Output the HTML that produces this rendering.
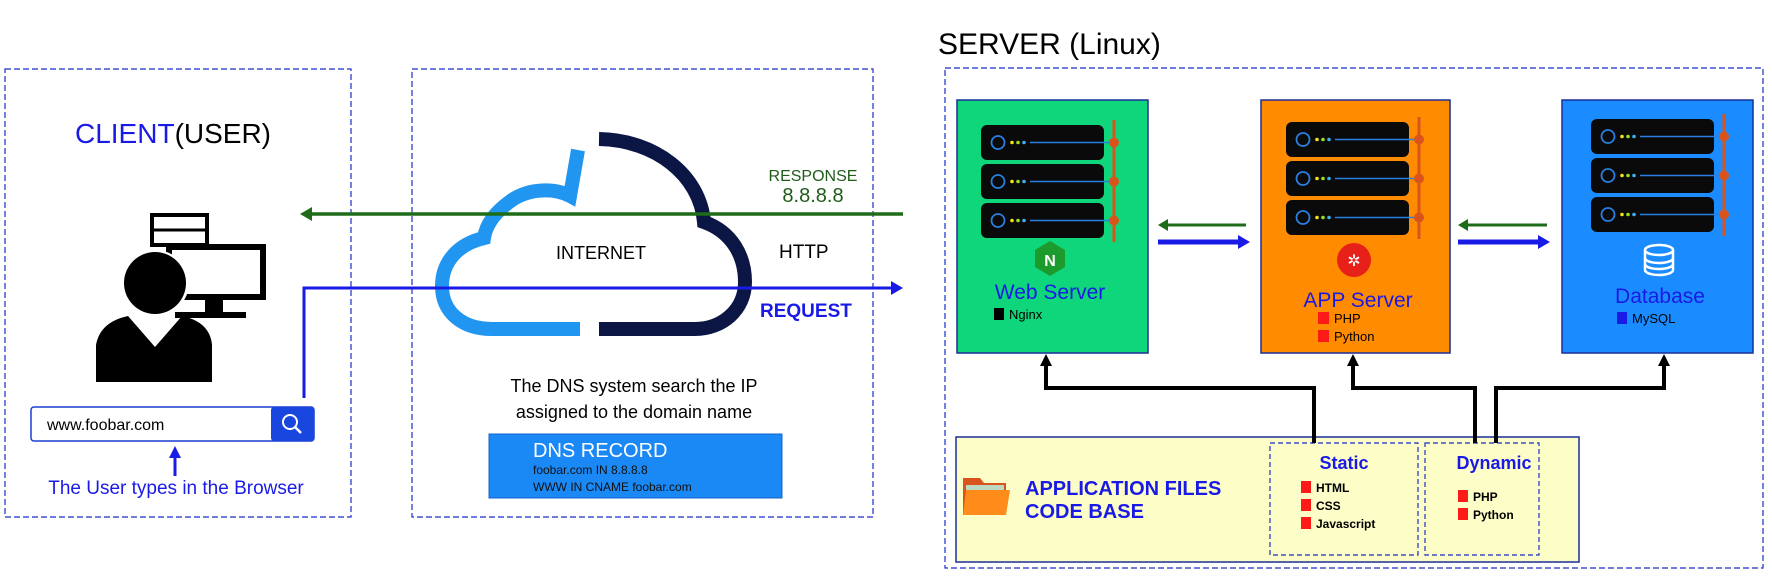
<!DOCTYPE html>
<html><head><meta charset="utf-8"><style>
html,body{margin:0;padding:0;background:#fff;}
svg{display:block;font-family:"Liberation Sans",Arial,sans-serif;}
</style></head><body>
<svg width="1772" height="577" viewBox="0 0 1772 577" xmlns="http://www.w3.org/2000/svg">
<defs>
<g id="unit">
  <rect x="0" y="0" width="123" height="35" rx="6" fill="#0a0a0a"/>
  <circle cx="17" cy="17.5" r="6.5" fill="none" stroke="#2a7fe0" stroke-width="1.8"/>
  <circle cx="31" cy="17.5" r="1.8" fill="#f5e21a"/>
  <circle cx="37" cy="17.5" r="1.8" fill="#9be11a"/>
  <circle cx="43" cy="17.5" r="1.8" fill="#3cb0f0"/>
  <line x1="49" y1="17.5" x2="133" y2="17.5" stroke="#2a7fe0" stroke-width="1.5"/>
  <circle cx="133" cy="17.5" r="5" fill="#d9541c"/>
</g>
<g id="rack">
  <line x1="133" y1="-5" x2="133" y2="117" stroke="#d9541c" stroke-width="3"/>
  <use href="#unit" x="0" y="0"/>
  <use href="#unit" x="0" y="39"/>
  <use href="#unit" x="0" y="78"/>
</g>
</defs>

<!-- Client box -->
<rect x="5" y="69" width="346" height="448" fill="none" stroke="#1a2fc8" stroke-width="1.2" stroke-dasharray="6,3"/>
<text x="173" y="143" font-size="28" text-anchor="middle"><tspan fill="#1a1ae6">CLIENT</tspan><tspan fill="#000">(USER)</tspan></text>

<!-- computer -->
<rect x="152" y="215" width="55" height="30" fill="#fff" stroke="#000" stroke-width="4"/>
<line x1="152" y1="230" x2="207" y2="230" stroke="#000" stroke-width="3"/>
<rect x="169" y="247" width="94" height="50" fill="#fff" stroke="#000" stroke-width="6"/>
<rect x="205" y="297" width="18" height="17" fill="#000"/>
<rect x="175" y="312" width="71" height="6" fill="#000"/>
<!-- person -->
<ellipse cx="155" cy="283" rx="34" ry="33" fill="#fff"/>
<ellipse cx="155" cy="283" rx="31" ry="31" fill="#000"/>
<path d="M96 382 L96 345 Q100 322 128 316 L155 347 L182 316 Q210 322 212 345 L212 382 Z" fill="#000"/>

<!-- search box -->
<rect x="31" y="407" width="283" height="34" rx="3" fill="#fff" stroke="#1a3fd0" stroke-width="1.5"/>
<rect x="271" y="407" width="43" height="34" rx="3" fill="#1a46e0"/>
<circle cx="290" cy="422" r="7" fill="none" stroke="#fff" stroke-width="2"/>
<line x1="295" y1="427" x2="301" y2="433" stroke="#fff" stroke-width="2.5"/>
<text x="47" y="430" font-size="16" fill="#000">www.foobar.com</text>
<line x1="175" y1="476" x2="175" y2="456" stroke="#1a1ae6" stroke-width="3"/>
<path d="M169 458 L175 446 L181 458 Z" fill="#1a1ae6"/>
<text x="176" y="494" font-size="19" fill="#1a1ae6" text-anchor="middle">The User types in the Browser</text>

<!-- middle box -->
<rect x="412" y="69" width="461" height="448" fill="none" stroke="#1a2fc8" stroke-width="1.2" stroke-dasharray="6,3"/>

<!-- cloud -->
<path d="M578 150 L570 196 C555 188 530 188 512 200 C495 212 486 224 484 238 C458 244 442 262 442 286 C442 312 462 329 492 329 L580 329" fill="none" stroke="#2196f0" stroke-width="14"/>
<path d="M599 139 C655 140 700 175 704 222 C732 232 745 256 745 282 C745 310 722 329 695 329 L599 329" fill="none" stroke="#0b1645" stroke-width="14"/>
<text x="601" y="259" font-size="18" text-anchor="middle" fill="#000">INTERNET</text>

<!-- response / request -->
<text x="813" y="181" font-size="16" text-anchor="middle" fill="#1f5c1a">RESPONSE</text>
<text x="813" y="202" font-size="20" text-anchor="middle" fill="#1f5c1a">8.8.8.8</text>
<line x1="310" y1="214" x2="903" y2="214" stroke="#1e6b18" stroke-width="3.5"/>
<path d="M300 214 L312 207 L312 221 Z" fill="#1e6b18"/>
<text x="779" y="258" font-size="19" fill="#000">HTTP</text>
<polyline points="304,398 304,288 893,288" fill="none" stroke="#1a1ae6" stroke-width="3"/>
<path d="M903 288 L891 281 L891 295 Z" fill="#1a1ae6"/>
<text x="760" y="317" font-size="19" font-weight="bold" fill="#1a1ae6">REQUEST</text>

<!-- DNS -->
<text x="634" y="392" font-size="18" text-anchor="middle" fill="#000">The DNS system search the IP</text>
<text x="634" y="418" font-size="18" text-anchor="middle" fill="#000">assigned to the domain name</text>
<rect x="489" y="434" width="293" height="64" fill="#1a88f5" stroke="#1466cc" stroke-width="1"/>
<text x="533" y="457" font-size="20" fill="#fff">DNS RECORD</text>
<text x="533" y="474" font-size="12" fill="#111">foobar.com IN 8.8.8.8</text>
<text x="533" y="491" font-size="12" fill="#111">WWW IN CNAME foobar.com</text>

<!-- server -->
<text x="938" y="54" font-size="30" fill="#000">SERVER (Linux)</text>
<rect x="945" y="68" width="818" height="500" fill="none" stroke="#1a2fc8" stroke-width="1.2" stroke-dasharray="6,3"/>

<!-- web server -->
<rect x="957" y="100" width="191" height="253" fill="#0fd67a" stroke="#1a2f9a" stroke-width="1.5"/>
<use href="#rack" x="981" y="125"/>
<path d="M1050 241 L1065 250 L1065 267 L1050 276 L1035 267 L1035 250 Z" fill="#1d9a2c"/>
<text x="1050" y="266" font-size="16" font-weight="bold" fill="#fff" text-anchor="middle">N</text>
<text x="1050" y="299" font-size="21" fill="#1a1ae6" text-anchor="middle">Web Server</text>
<rect x="994" y="308" width="10" height="12" fill="#000"/>
<text x="1009" y="319" font-size="13" fill="#000">Nginx</text>

<!-- app server -->
<rect x="1261" y="100" width="189" height="253" fill="#ff8c00" stroke="#1a2f9a" stroke-width="1.5"/>
<use href="#rack" x="1286" y="122"/>
<circle cx="1354" cy="260" r="17" fill="#e8201a"/>
<text x="1354" y="266" font-size="16" fill="#fff" text-anchor="middle">✲</text>
<text x="1358" y="307" font-size="21" fill="#1a1ae6" text-anchor="middle">APP Server</text>
<rect x="1318" y="312" width="11" height="12" fill="#ff1a1a"/>
<text x="1334" y="323" font-size="13" fill="#000">PHP</text>
<rect x="1318" y="330" width="11" height="12" fill="#ff1a1a"/>
<text x="1334" y="341" font-size="13" fill="#000">Python</text>

<!-- database -->
<rect x="1562" y="100" width="191" height="253" fill="#1a8cff" stroke="#1a2f9a" stroke-width="1.5"/>
<use href="#rack" x="1591" y="119"/>
<g fill="#1a8cff" stroke="#fff" stroke-width="2.5">
<path d="M1645 250 L1645 270 A14 5 0 0 0 1673 270 L1673 250"/>
<path d="M1645 258 A14 5 0 0 0 1673 258" fill="none"/>
<path d="M1645 264 A14 5 0 0 0 1673 264" fill="none"/>
<ellipse cx="1659" cy="250" rx="14" ry="5"/>
</g>
<text x="1660" y="303" font-size="21" fill="#1a1ae6" text-anchor="middle">Database</text>
<rect x="1617" y="312" width="10" height="12" fill="#1a1ae6"/>
<text x="1632" y="323" font-size="13" fill="#000">MySQL</text>

<!-- inter-server arrows -->
<line x1="1166" y1="225" x2="1246" y2="225" stroke="#1e6b18" stroke-width="3"/>
<path d="M1158 225 L1168 219 L1168 231 Z" fill="#1e6b18"/>
<line x1="1158" y1="242" x2="1240" y2="242" stroke="#1a1ae6" stroke-width="5"/>
<path d="M1250 242 L1238 235 L1238 249 Z" fill="#1a1ae6"/>
<line x1="1466" y1="225" x2="1547" y2="225" stroke="#1e6b18" stroke-width="3"/>
<path d="M1458 225 L1468 219 L1468 231 Z" fill="#1e6b18"/>
<line x1="1458" y1="242" x2="1540" y2="242" stroke="#1a1ae6" stroke-width="5"/>
<path d="M1550 242 L1538 235 L1538 249 Z" fill="#1a1ae6"/>

<!-- app files -->
<rect x="956" y="437" width="623" height="125" fill="#fdfdc8" stroke="#1a2f9a" stroke-width="1.5"/>
<rect x="1270" y="443" width="148" height="112" fill="none" stroke="#1a2fc8" stroke-width="1.2" stroke-dasharray="5,3"/>
<rect x="1425" y="443" width="114" height="112" fill="none" stroke="#1a2fc8" stroke-width="1.2" stroke-dasharray="5,3"/>
<path d="M963 478 L980 478 L984 483 L1006 483 L1006 515 L963 515 Z" fill="#d9541c"/>
<rect x="966" y="485" width="38" height="6" fill="#bcd8c0"/>
<path d="M966 490 L1010 490 L1006 515 L963 515 Z" fill="#ff8c1a"/>
<text x="1025" y="495" font-size="20" font-weight="bold" fill="#1a1ae6">APPLICATION FILES</text>
<text x="1025" y="518" font-size="20" font-weight="bold" fill="#1a1ae6">CODE BASE</text>
<text x="1344" y="469" font-size="18" font-weight="bold" fill="#1a1ae6" text-anchor="middle">Static</text>
<rect x="1301" y="481" width="10" height="12" fill="#ff1a1a"/><text x="1316" y="492" font-size="12" font-weight="bold" fill="#000">HTML</text>
<rect x="1301" y="499" width="10" height="12" fill="#ff1a1a"/><text x="1316" y="510" font-size="12" font-weight="bold" fill="#000">CSS</text>
<rect x="1301" y="517" width="10" height="12" fill="#ff1a1a"/><text x="1316" y="528" font-size="12" font-weight="bold" fill="#000">Javascript</text>
<text x="1494" y="469" font-size="18" font-weight="bold" fill="#1a1ae6" text-anchor="middle">Dynamic</text>
<rect x="1458" y="490" width="10" height="12" fill="#ff1a1a"/><text x="1473" y="501" font-size="12" font-weight="bold" fill="#000">PHP</text>
<rect x="1458" y="508" width="10" height="12" fill="#ff1a1a"/><text x="1473" y="519" font-size="12" font-weight="bold" fill="#000">Python</text>

<!-- connectors -->
<g fill="none" stroke="#000" stroke-width="4">
<polyline points="1314,443 1314,388 1046,388 1046,364"/>
<polyline points="1475,443 1475,388 1353,388 1353,364"/>
<polyline points="1496,443 1496,388 1664,388 1664,364"/>
</g>
<path d="M1046 354 L1040 366 L1052 366 Z" fill="#000"/>
<path d="M1353 354 L1347 366 L1359 366 Z" fill="#000"/>
<path d="M1664 354 L1658 366 L1670 366 Z" fill="#000"/>
</svg>
</body></html>
